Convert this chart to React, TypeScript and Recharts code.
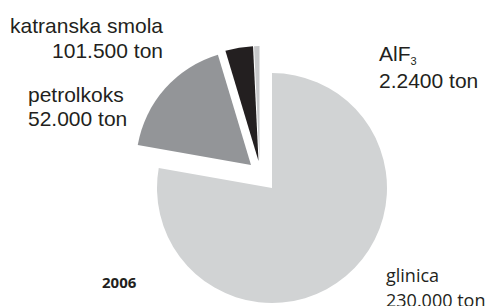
import { PieChart, Pie, Cell } from "recharts";

// slice sizes (share of the circle)
const categories = ["glinica", "petrolkoks", "katranska smola", "AlF3"];
const tonnage = [230000, 52000, 11500, 2240];

// label texts as printed on the chart
const labelNames = ["glinica", "petrolkoks", "katranska smola", "AlF"];
const labelValues = ["230.000 ton", "52.000 ton", "101.500 ton", "2.2400 ton"];
const yearLabel = "2006";

const COLORS = ["#d1d3d4", "#939598", "#231f20", "#c7c8ca"];

// each slice is drawn by its own Pie so it can sit exploded from the centre
const CENTERS = [
    { cx: 272, cy: 188 },
    { cx: 251, cy: 165 },
    { cx: 258.5, cy: 161 },
    { cx: 259.5, cy: 161 },
];

const data = categories.map((name, i) => ({ name, value: tonnage[i] }));

const helv = "'Liberation Sans', Arial, Helvetica, sans-serif";
const calibri = "'Open Sans', 'Noto Sans', sans-serif";

export default function App() {
    return (
        <div style={{ position: "absolute", left: 0, top: 0, width: 493, height: 306, background: "#fff", overflow: "hidden" }}>
            <PieChart width={493} height={306} margin={{ top: 0, right: 0, bottom: 0, left: 0 }}>
                {CENTERS.map((c, k) => (
                    <Pie
                        key={k}
                        data={data}
                        dataKey="value"
                        nameKey="name"
                        cx={c.cx}
                        cy={c.cy}
                        outerRadius={115}
                        innerRadius={0}
                        startAngle={90}
                        endAngle={-270}
                        stroke="none"
                        isAnimationActive={false}
                        legendType="none"
                    >
                        {data.map((_, i) => (
                            <Cell key={i} fill={i === k ? COLORS[i] : "none"} />
                        ))}
                    </Pie>
                ))}
            </PieChart>

            <svg width={493} height={306} style={{ position: "absolute", left: 0, top: 0, pointerEvents: "none" }}>
                <g fontFamily={helv} fontSize={21} fill="#231f20">
                    <text x={163} y={33} textAnchor="end">{labelNames[2]}</text>
                    <text x={163} y={58} textAnchor="end">{labelValues[2]}</text>
                    <text x={28} y={102}>{labelNames[1]}</text>
                    <text x={28} y={126}>{labelValues[1]}</text>
                    <text x={379} y={61}>
                        {labelNames[3]}
                        <tspan fontSize={11} dy={4}>3</tspan>
                    </text>
                    <text x={379} y={88}>{labelValues[3]}</text>
                </g>
                <g fontFamily={calibri} fill="#231f20">
                    <text x={386} y={282} fontSize={18}>{labelNames[0]}</text>
                    <text x={386} y={307} fontSize={18}>{labelValues[0]}</text>
                    <text x={102} y={288} fontSize={15} fontWeight="bold">{yearLabel}</text>
                </g>
            </svg>
        </div>
    );
}
